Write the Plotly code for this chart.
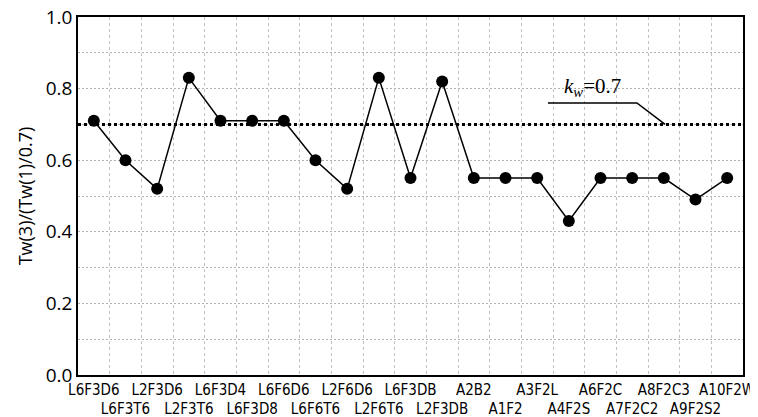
import plotly.graph_objects as go

categories = ["L6F3D6", "L6F3T6", "L2F3D6", "L2F3T6", "L6F3D4", "L6F3D8", "L6F6D6",
              "L6F6T6", "L2F6D6", "L2F6T6", "L6F3DB", "L2F3DB", "A2B2", "A1F2",
              "A3F2L", "A4F2S", "A6F2C", "A7F2C2", "A8F2C3", "A9F2S2", "A10F2W"]
values = [0.71, 0.60, 0.52, 0.83, 0.71, 0.71, 0.71,
          0.60, 0.52, 0.83, 0.55, 0.82, 0.55, 0.55,
          0.55, 0.43, 0.55, 0.55, 0.55, 0.49, 0.55]
kw = 0.7
y_ticks = [0.0, 0.2, 0.4, 0.6, 0.8, 1.0]

ticktext = [c if i % 2 == 0 else "<br>" + c for i, c in enumerate(categories)]

fig = go.Figure()
fig.add_trace(go.Scatter(
    x=categories, y=values, mode="lines+markers",
    line=dict(color="black", width=1.5),
    marker=dict(color="black", size=12),
    showlegend=False,
))

# k_w reference line
fig.add_shape(type="line", xref="paper", yref="y", x0=0, x1=1, y0=kw, y1=kw,
              line=dict(color="black", width=3, dash="dot"))
# leader line for annotation
fig.add_shape(type="path", xref="x", yref="y",
              path="M 14.34,0.76 L 17.15,0.76 L 18.04,0.70",
              line=dict(color="black", width=1.5))
fig.add_annotation(x=15.75, y=0.762, xref="x", yref="y", xanchor="center", yanchor="bottom",
                   text="<i>k</i><sub><i>w</i></sub>=0.7", showarrow=False,
                   font=dict(family="Liberation Serif, serif", size=21, color="black"))

fig.update_layout(
    width=750, height=409,
    margin=dict(l=70, r=15, t=9, b=42),
    plot_bgcolor="white", paper_bgcolor="white",
    font=dict(family="Open Sans, sans-serif", color="black"),
)
fig.update_xaxes(
    type="category", range=[-0.5, 20.5], automargin=False,
    tickmode="array", tickvals=categories, ticktext=ticktext,
    tickson="boundaries", ticks="",
    showgrid=True, gridcolor="#c0c0c0", gridwidth=1, griddash="dot",
    showline=True, linecolor="black", linewidth=1.5, mirror=True,
    tickfont=dict(family="Liberation Sans Narrow, DejaVu Sans Condensed, sans-serif", size=15, color="black"),
    tickangle=0,
)
fig.update_yaxes(
    range=[0, 1], tickmode="array", tickvals=y_ticks, tickformat=".1f", automargin=False,
    ticklabeloverflow="allow",
    ticks="", showgrid=True, gridcolor="#b0b0b0", gridwidth=1, griddash="2px,2px",
    minor=dict(dtick=0.1, showgrid=True, gridcolor="#b0b0b0", gridwidth=1, griddash="2px,2px"),
    showline=True, linecolor="black", linewidth=1.5, mirror=True, zeroline=False,
    tickfont=dict(size=19, color="black"),
    title=dict(text="Tw(3)/(Tw(1)/0.7)", font=dict(size=18, color="black"), standoff=8),
)

fig.write_html("out.html")
